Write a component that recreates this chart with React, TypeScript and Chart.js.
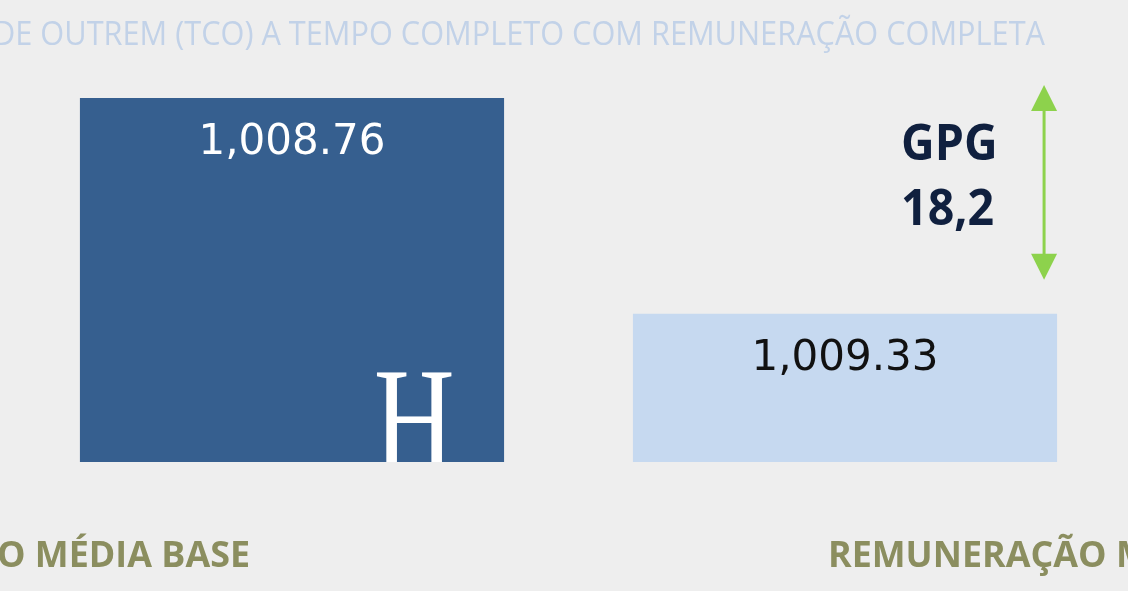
import { useEffect, useRef } from 'react';
import { Chart, registerables } from 'chart.js';

Chart.register(...registerables);

// Data
const categories = ['REMUNERAÇÃO MÉDIA BASE', 'REMUNERAÇÃO MÉDIA COMPLETA'];
const barHeights = [100, 40.7]; // relative heights of the two blocks
const averagePay = [1008.76, 1009.33];
const gpgValue = 18.2;
const titleText = 'TRABALHADORES POR CONTA DE OUTREM (TCO) A TEMPO COMPLETO COM REMUNERAÇÃO COMPLETA';

const barColors = ['#365f8f', '#c6d9f0'];
const valueColors = ['#ffffff', '#111111'];

// draw text squeezed horizontally
function drawScaled(
  ctx: CanvasRenderingContext2D,
  text: string,
  x: number,
  y: number,
  sx: number,
  align: CanvasTextAlign,
) {
  ctx.save();
  ctx.translate(x, y);
  ctx.scale(sx, 1);
  ctx.textAlign = align;
  ctx.textBaseline = 'alphabetic';
  ctx.fillText(text, 0, 0);
  ctx.restore();
}

const decorPlugin = {
  id: 'decor',
  beforeDraw(chart: Chart) {
    const { ctx, width, height } = chart;
    ctx.save();
    ctx.fillStyle = '#eeeeee';
    ctx.fillRect(0, 0, width, height);
    ctx.restore();
  },
  afterDatasetsDraw(chart: Chart) {
    const { ctx, chartArea } = chart;
    const bars = chart.getDatasetMeta(0).data as any[];
    const left = bars[0];
    const right = bars[1];

    ctx.save();

    // title (cut at left edge)
    ctx.font = '32px "Open Sans"';
    ctx.fillStyle = '#c2d2e8';
    const visible = 'DE OUTREM (TCO) A TEMPO COMPLETO COM REMUNERAÇÃO COMPLETA';
    const tsx = 1052 / ctx.measureText(visible).width;
    drawScaled(ctx, titleText, 1045, 45, tsx, 'right');

    // value labels
    ctx.font = '42px "DejaVu Sans"';
    bars.forEach((bar, i) => {
      ctx.fillStyle = valueColors[i];
      ctx.textAlign = 'center';
      ctx.textBaseline = 'alphabetic';
      const txt = averagePay[i].toLocaleString('en-US', { minimumFractionDigits: 2, maximumFractionDigits: 2 });
      ctx.fillText(txt, bar.x, bar.y + 56);
    });

    // H glyph inside the dark block
    ctx.save();
    ctx.beginPath();
    ctx.rect(left.x - left.width / 2, left.y, left.width, left.base - left.y);
    ctx.clip();
    ctx.fillStyle = '#ffffff';
    ctx.font = '112px "Liberation Serif"';
    ctx.translate(left.x + left.width / 2 - 90, left.base + 8);
    ctx.scale(1.0, 1.32);
    ctx.textAlign = 'center';
    ctx.textBaseline = 'alphabetic';
    ctx.fillText('H', 0, 0);
    ctx.restore();

    // green double arrow
    const ax = right.x + right.width / 2 - 13;
    const top = chartArea.top - 13;
    const bottom = right.y - 34;
    ctx.strokeStyle = '#8dd24c';
    ctx.fillStyle = '#8dd24c';
    ctx.lineWidth = 3;
    ctx.beginPath();
    ctx.moveTo(ax, top + 20);
    ctx.lineTo(ax, bottom - 20);
    ctx.stroke();
    ctx.beginPath();
    ctx.moveTo(ax, top);
    ctx.lineTo(ax - 13, top + 26);
    ctx.lineTo(ax + 13, top + 26);
    ctx.closePath();
    ctx.fill();
    ctx.beginPath();
    ctx.moveTo(ax, bottom);
    ctx.lineTo(ax - 13, bottom - 26);
    ctx.lineTo(ax + 13, bottom - 26);
    ctx.closePath();
    ctx.fill();

    // GPG text
    ctx.fillStyle = '#10203f';
    ctx.font = 'bold 50px "Open Sans"';
    drawScaled(ctx, 'GPG', ax - 143, 160, 0.93, 'left');
    drawScaled(ctx, gpgValue.toLocaleString('pt-PT'), ax - 143, 225, 0.93, 'left');

    // category labels (cut by the edges)
    ctx.fillStyle = '#8b8e5f';
    ctx.font = 'bold 35px "Open Sans"';
    const lsx = 253 / ctx.measureText('O MÉDIA BASE').width;
    drawScaled(ctx, categories[0], 250, 567, lsx, 'right');
    drawScaled(ctx, categories[1], 828, 567, lsx, 'left');

    ctx.restore();
  },
};

const App: React.FC = () => {
  const chartRef = useRef<HTMLCanvasElement>(null);
  const chartInstance = useRef<Chart | null>(null);

  useEffect(() => {
    document.body.style.margin = '0';
    document.body.style.background = '#eeeeee';
    if (!chartRef.current) return;
    if (chartInstance.current) chartInstance.current.destroy();

    chartInstance.current = new Chart(chartRef.current, {
      type: 'bar',
      data: {
        labels: categories,
        datasets: [
          {
            data: barHeights,
            backgroundColor: barColors,
            borderWidth: 0,
            categoryPercentage: 1,
            barPercentage: 0.767,
          },
        ],
      },
      options: {
        animation: false,
        responsive: true,
        maintainAspectRatio: false,
        layout: { padding: { top: 98, bottom: 129, left: 15.5, right: 6.5 } },
        plugins: {
          legend: { display: false },
          tooltip: { enabled: false },
        },
        scales: {
          x: { display: false },
          y: { display: false, min: 0, max: 100 },
        },
      },
      plugins: [decorPlugin],
    });

    return () => {
      if (chartInstance.current) {
        chartInstance.current.destroy();
        chartInstance.current = null;
      }
    };
  }, []);

  return (
    <div style={{ width: 1128, height: 591, position: 'relative' }}>
      <canvas ref={chartRef} />
    </div>
  );
};

export default App;
